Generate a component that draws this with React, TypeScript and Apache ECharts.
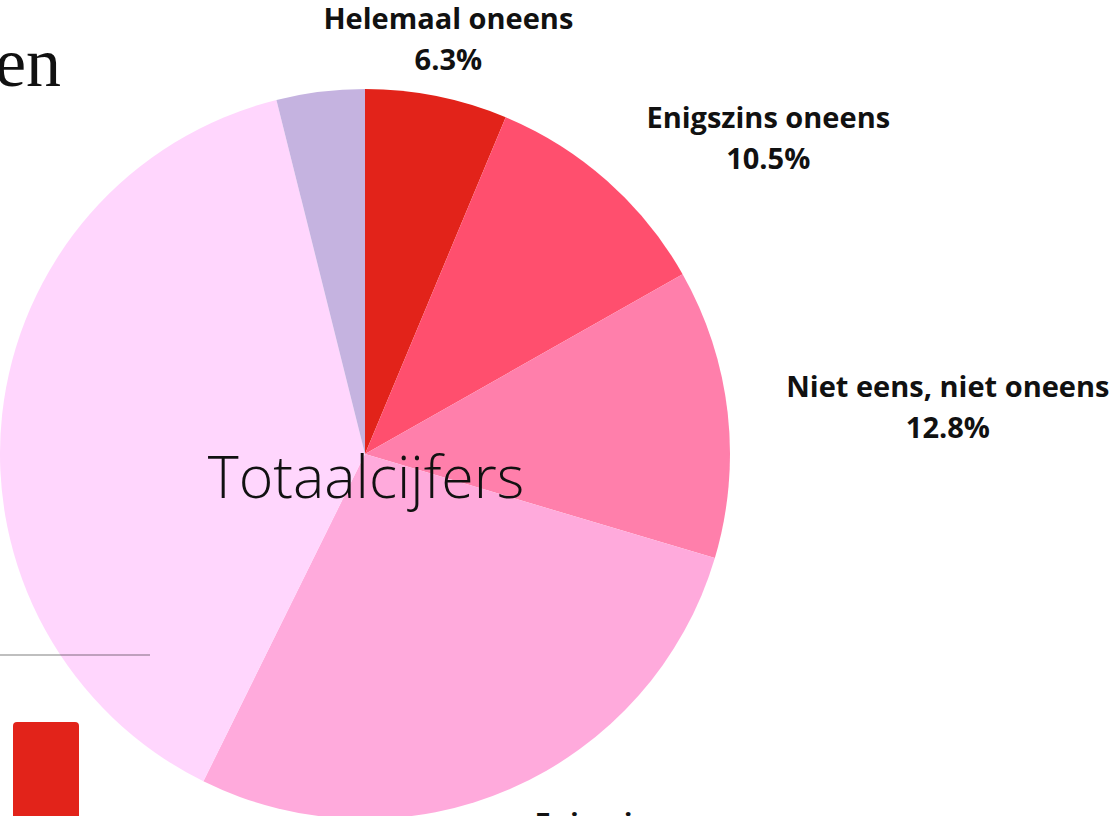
import React, { useEffect, useRef } from "react";
import * as echarts from "echarts";

const categories = [
  "Helemaal oneens",
  "Enigszins oneens",
  "Niet eens, niet oneens",
  "Enigszins eens",
  "Helemaal eens",
  "Weet niet",
];
const values = [6.3, 10.5, 12.8, 27.7, 38.8, 3.9];
const colors = ["#e2231a", "#ff4f6e", "#ff7fab", "#ffaadc", "#ffd6fd", "#c5b3e0"];
const hiddenLabels = ["Weet niet"];
const centerTitle = "Totaalcijfers";
const headerFragment = "en";

const CX = 365;
const CY = 454;
const R = 365;
const LABEL_DIST = 424;

export default function App() {
  const ref = useRef<HTMLDivElement>(null);
  useEffect(() => {
    if (!ref.current) return;
    const chart = echarts.init(ref.current, null, { renderer: "svg" });
    const total = values.reduce((a, b) => a + b, 0);
    const option: any = {
      animation: false,
      backgroundColor: "#ffffff",
      graphic: [
        {
          type: "text",
          z: 10,
          x: 61,
          y: 97,
          style: {
            text: headerFragment,
            font: "normal 70px 'Liberation Serif', serif",
            fill: "#111111",
            align: "right",
            verticalAlign: "bottom",
          },
        },
        {
          type: "line",
          z: 10,
          shape: { x1: 0, y1: 655, x2: 150, y2: 655 },
          style: { stroke: "rgba(0,0,0,0.25)", lineWidth: 2 },
        },
        {
          type: "rect",
          z: 10,
          shape: { x: 13, y: 722, width: 66, height: 140, r: 4 },
          style: { fill: "#e2231a" },
        },
        {
          type: "text",
          z: 10,
          x: CX + 1,
          y: 475,
          style: {
            text: centerTitle,
            font: "300 59px 'Open Sans', sans-serif",
            fill: "#111111",
            align: "center",
            verticalAlign: "middle",
          },
        },
      ],
      series: [
        {
          type: "pie",
          center: [CX, CY],
          radius: R,
          startAngle: 90,
          clockwise: true,
          avoidLabelOverlap: false,
          itemStyle: { borderWidth: 0 },
          label: {
            show: true,
            position: "outside",
            color: "#111111",
            fontFamily: "'Open Sans', sans-serif",
            fontWeight: "bold",
            fontSize: 29,
            lineHeight: 41,
            align: "center",
            formatter: (p: any) => `${p.name}\n${Number(p.value).toFixed(1)}%`,
          },
          labelLine: { show: false },
          emphasis: { disabled: true },
          labelLayout: (params: any) => {
            const i = params.dataIndex;
            let before = 0;
            for (let k = 0; k < i; k++) before += values[k];
            const mid = (before + values[i] / 2) / total;
            const th = mid * Math.PI * 2;
            const s = Math.sin(th);
            const c = Math.cos(th);
            const ax = CX + LABEL_DIST * s;
            const ay = CY - LABEL_DIST * c;
            const w = params.labelRect ? params.labelRect.width : 0;
            let x = ax;
            if (Math.abs(s) >= 0.3) x = s > 0 ? ax + w / 2 : ax - w / 2;
            return { x, y: ay, align: "center", verticalAlign: "middle" };
          },
          data: categories.map((name, i) => ({
            name,
            value: values[i],
            itemStyle: { color: colors[i] },
            label: { show: hiddenLabels.indexOf(name) < 0 },
          })),
        },
      ],
    };
    chart.setOption(option);
    return () => chart.dispose();
  }, []);
  return (
    <div
      ref={ref}
      style={{
        position: "absolute",
        left: 0,
        top: 0,
        width: 1117,
        height: 816,
        overflow: "hidden",
      }}
    />
  );
}
